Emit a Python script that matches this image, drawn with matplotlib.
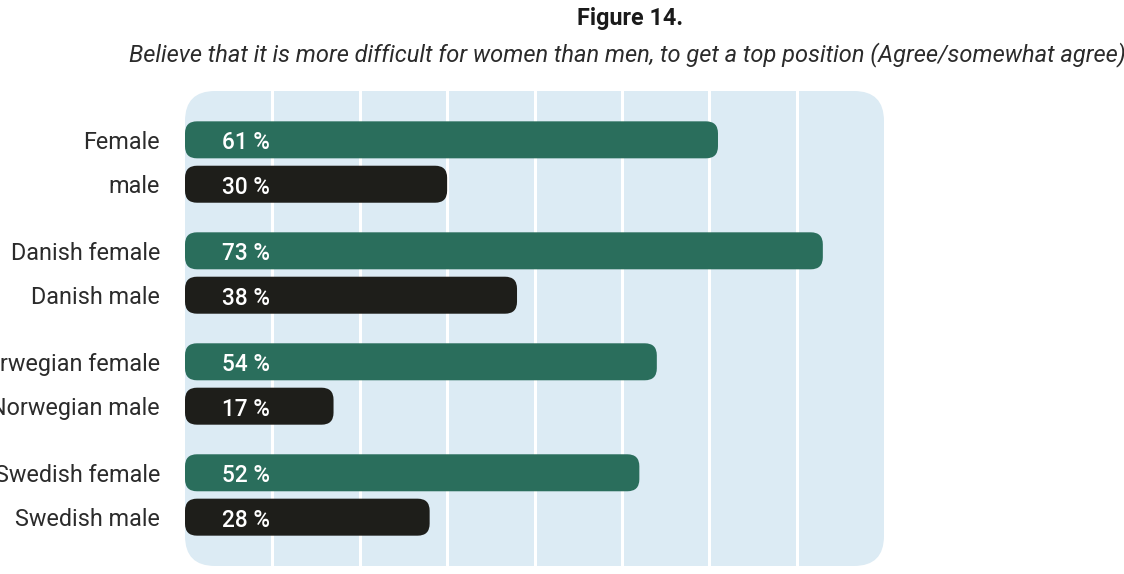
import matplotlib
matplotlib.use("Agg")
import matplotlib.pyplot as plt
from matplotlib.patches import FancyBboxPatch

categories = ["Female", "male", "Danish female", "Danish male",
              "Norwegian female", "Norwegian male", "Swedish female", "Swedish male"]
values = [61, 30, 73, 38, 54, 17, 52, 28]
value_labels = ["61 %", "30 %", "73 %", "38 %", "54 %", "17 %", "52 %", "28 %"]
genders = ["f", "m", "f", "m", "f", "m", "f", "m"]
gridticks = [10, 20, 30, 40, 50, 60, 70]

title = "Figure 14."
subtitle = "Believe that it is more difficult for women than men, to get a top position (Agree/somewhat agree)"

GREEN = "#2a6e5c"
DARK = "#1e1e1a"
PANEL = "#dcebf4"
TEXT = "#2b2b2b"

plt.rcParams["font.family"] = ["Roboto", "DejaVu Sans"]

W, H = 1124, 574
fig = plt.figure(figsize=(W / 100, H / 100), dpi=100)
# panel: x 185..884, y 91..566 (pixels from top)
ax = fig.add_axes([185 / W, 1 - 566 / H, (884 - 185) / W, (566 - 91) / H])

# y positions: groups of two
ypos = []
for i in range(len(categories)):
    g, k = divmod(i, 2)
    ypos.append(g * 2.5 + k)

ax.set_xlim(0, 80)
ax.set_ylim(ypos[-1] + 1.1, -1.1)
ax.set_facecolor("none")
for s in ax.spines.values():
    s.set_visible(False)

fig.canvas.draw()
p0 = ax.transData.transform((0, 0))
p1 = ax.transData.transform((1, 1))
pxx = abs(p1[0] - p0[0])
pxy = abs(p1[1] - p0[1])
aspect = pxx / pxy

x0, x1 = ax.get_xlim()
y1, y0 = ax.get_ylim()
r_panel = 30 / pxx
panel = FancyBboxPatch((x0, y0), x1 - x0, y1 - y0,
                       boxstyle=f"round,pad=0,rounding_size={r_panel}",
                       mutation_aspect=aspect, facecolor=PANEL, edgecolor="none",
                       zorder=0, clip_on=False)
ax.add_patch(panel)

for t in gridticks:
    ax.axvline(t, color="white", lw=2.2, zorder=1)

bar_h = 37 / pxy
r_bar = 12 / pxx
for y, v, g, lab in zip(ypos, values, genders, value_labels):
    col = GREEN if g == "f" else DARK
    bar = FancyBboxPatch((0, y - bar_h / 2), v, bar_h,
                         boxstyle=f"round,pad=0,rounding_size={r_bar}",
                         mutation_aspect=aspect, facecolor=col, edgecolor="none",
                         zorder=2, clip_on=False)
    ax.add_patch(bar)
    ax.annotate(lab, (0, y), xytext=(37, -3), textcoords="offset pixels",
                ha="left", va="center", color="white", fontsize=16.3,
                fontweight="medium", zorder=3)

ax.set_xticks([])
ax.set_yticks(ypos)
ax.set_yticklabels(categories, fontsize=16.8, color=TEXT)
ax.tick_params(axis="y", length=0, pad=18)

fig.text(630 / W, 1 - 18 / H, title, ha="center", va="center",
         fontsize=16.8, fontweight="bold", color="#1a1a1a")
fig.text(627 / W, 1 - 55 / H, subtitle, ha="center", va="center",
         fontsize=17, style="italic", color=TEXT)

fig.savefig("out.png", dpi=100)
